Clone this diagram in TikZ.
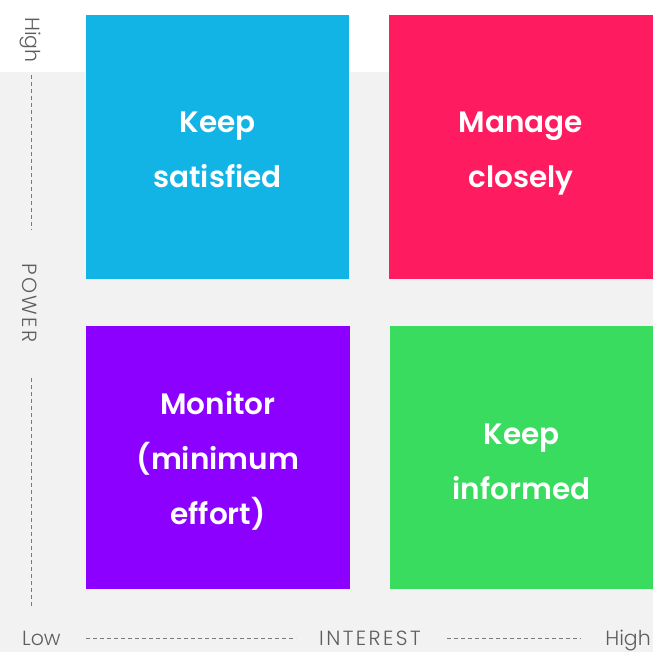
\documentclass[tikz,border=0pt]{standalone}
\usepackage{fontspec}
\setmainfont{Poppins}[BoldFont={Poppins SemiBold}]
\newfontfamily\axfont{Poppins Light}
\begin{document}
\definecolor{bgGray}{HTML}{F2F2F2}
\definecolor{qBlue}{HTML}{12B4E6}
\definecolor{qPink}{HTML}{FF1B5F}
\definecolor{qPurple}{HTML}{8C00FF}
\definecolor{qGreen}{HTML}{3ADC5F}
\definecolor{axText}{HTML}{5E5E5E}
\definecolor{axLine}{HTML}{7A7A7A}
\begin{tikzpicture}[x=1pt,y=-1pt,
  qlabel/.style={text=white,align=center,font=\fontsize{29.5}{55}\selectfont\bfseries},
  axlabel/.style={text=axText,inner sep=0pt,font=\fontsize{20.5}{24}\selectfont\axfont},
  spaced/.style={font=\fontsize{20.5}{24}\selectfont\axfont\addfontfeature{LetterSpace=12}},
  axdash/.style={draw=axLine,line width=1pt,dash pattern=on 4pt off 3pt}]
\useasboundingbox (0,0) rectangle (653,652);
\fill[white] (0,0) rectangle (653,652);
\fill[bgGray] (0,72) rectangle (653,652);
% quadrants
\fill[qBlue] (86,15) rectangle (349,279);
\fill[qPink] (389,15) rectangle (653,279);
\fill[qPurple] (86,326) rectangle (350,589);
\fill[qGreen] (390,326) rectangle (653,589);
\node[qlabel] (ks) at (217.5,150) {Keep\\satisfied};
\node[qlabel] (mc) at (521,154) {Manage\\closely};
\node[qlabel] (mo) at (218,461) {Monitor\\(minimum\\effort)};
\node[qlabel] (ki) at (521.5,461.5) {Keep\\informed};
% vertical axis
\node[axlabel,rotate=-90] (phigh) at (30,40) {High};
\node[axlabel,spaced,rotate=-90] (pow) at (30,303) {POWER};
\coordinate (v1a) at (31.5,75);
\coordinate (v1b) at (31.5,230);
\coordinate (v2a) at (31.5,378);
\coordinate (v2b) at (31.5,608);
\draw[axdash] (v1a) -- (v1b);
\draw[axdash] (v2a) -- (v2b);
% horizontal axis
\node[axlabel,anchor=base west] (ilow) at (22,645) {Low};
\node[axlabel,spaced,anchor=base] (int) at (370,645) {INTEREST};
\node[axlabel,anchor=base east] (ihigh) at (651,645) {High};
\coordinate (h1a) at (86,638);
\coordinate (h1b) at (296,638);
\coordinate (h2a) at (447,638);
\coordinate (h2b) at (581,638);
\draw[axdash] (h1a) -- (h1b);
\draw[axdash] (h2a) -- (h2b);
\end{tikzpicture}
\end{document}
